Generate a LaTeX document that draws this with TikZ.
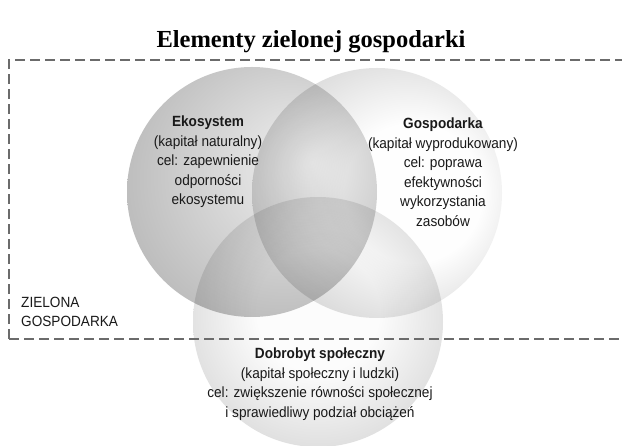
\documentclass[tikz,border=0pt]{standalone}
\usepackage{fontspec}
\setmainfont{Liberation Serif}
\newfontfamily\arialf[FakeStretch=0.92]{Liberation Sans}
\definecolor{lin}{gray}{0.95}
\definecolor{lout}{gray}{0.73}
\definecolor{rin}{gray}{0.995}
\definecolor{rout}{gray}{0.83}
\definecolor{bin}{gray}{0.99}
\definecolor{bout}{gray}{0.85}
\definecolor{txt}{gray}{0.1}
\definecolor{dashc}{gray}{0.42}
\pgfdeclareradialshading{shL}{\pgfpoint{12bp}{6bp}}{color(0bp)=(lin); color(32bp)=(lout); color(50bp)=(lout)}
\pgfdeclareradialshading{shR}{\pgfpoint{10bp}{0bp}}{color(0bp)=(rin); color(14bp)=(rin); color(32bp)=(rout); color(50bp)=(rout)}
\pgfdeclareradialshading{shB}{\pgfpoint{0bp}{3bp}}{color(0bp)=(bin); color(12bp)=(bin); color(30bp)=(bout); color(50bp)=(bout)}
\tikzset{
  lbl/.style={align=center, text=txt, inner sep=0pt, font=\arialf\fontsize{14.8}{19.5}\selectfont},
  titlestyle/.style={inner sep=0pt, font=\bfseries\fontsize{24.5}{29}\selectfont},
  dashbox/.style={draw=dashc, line width=1.4pt, dash pattern=on 10pt off 5pt}
}
\begin{document}
\begin{tikzpicture}[x=1pt,y=-1pt]
\useasboundingbox (0,0) rectangle (622,446);
\fill[white] (0,0) rectangle (622,446);
\coordinate (L) at (252,192);
\coordinate (R) at (377,193);
\coordinate (B) at (318,322);
\begin{scope}[blend mode=multiply]
  \shade[shading=shL] (L) circle [radius=125pt];
  \shade[shading=shR] (R) circle [radius=125pt];
  \shade[shading=shB] (B) circle [radius=125pt];
\end{scope}
\draw[dashbox] (9,339) -- (9,60) -- (630,60);
\draw[dashbox] (9,339) -- (630,339);
\node[titlestyle] (title) at (311,42) {Elementy zielonej gospodarki};
\node[lbl] (eko) at (208,162) {\textbf{Ekosystem}\\(kapitał naturalny)\\cel: zapewnienie\\odporności\\ekosystemu};
\node[lbl] (gos) at (443,172) {\textbf{Gospodarka}\\(kapitał wyprodukowany)\\cel: poprawa\\efektywności\\wykorzystania\\zasobów};
\node[lbl] (dob) at (320,384) {\textbf{Dobrobyt społeczny}\\(kapitał społeczny i ludzki)\\cel: zwiększenie równości społecznej\\i sprawiedliwy podział obciążeń};
\node[lbl, align=left, anchor=west] (zg) at (21,312) {ZIELONA\\GOSPODARKA};
\end{tikzpicture}
\end{document}
